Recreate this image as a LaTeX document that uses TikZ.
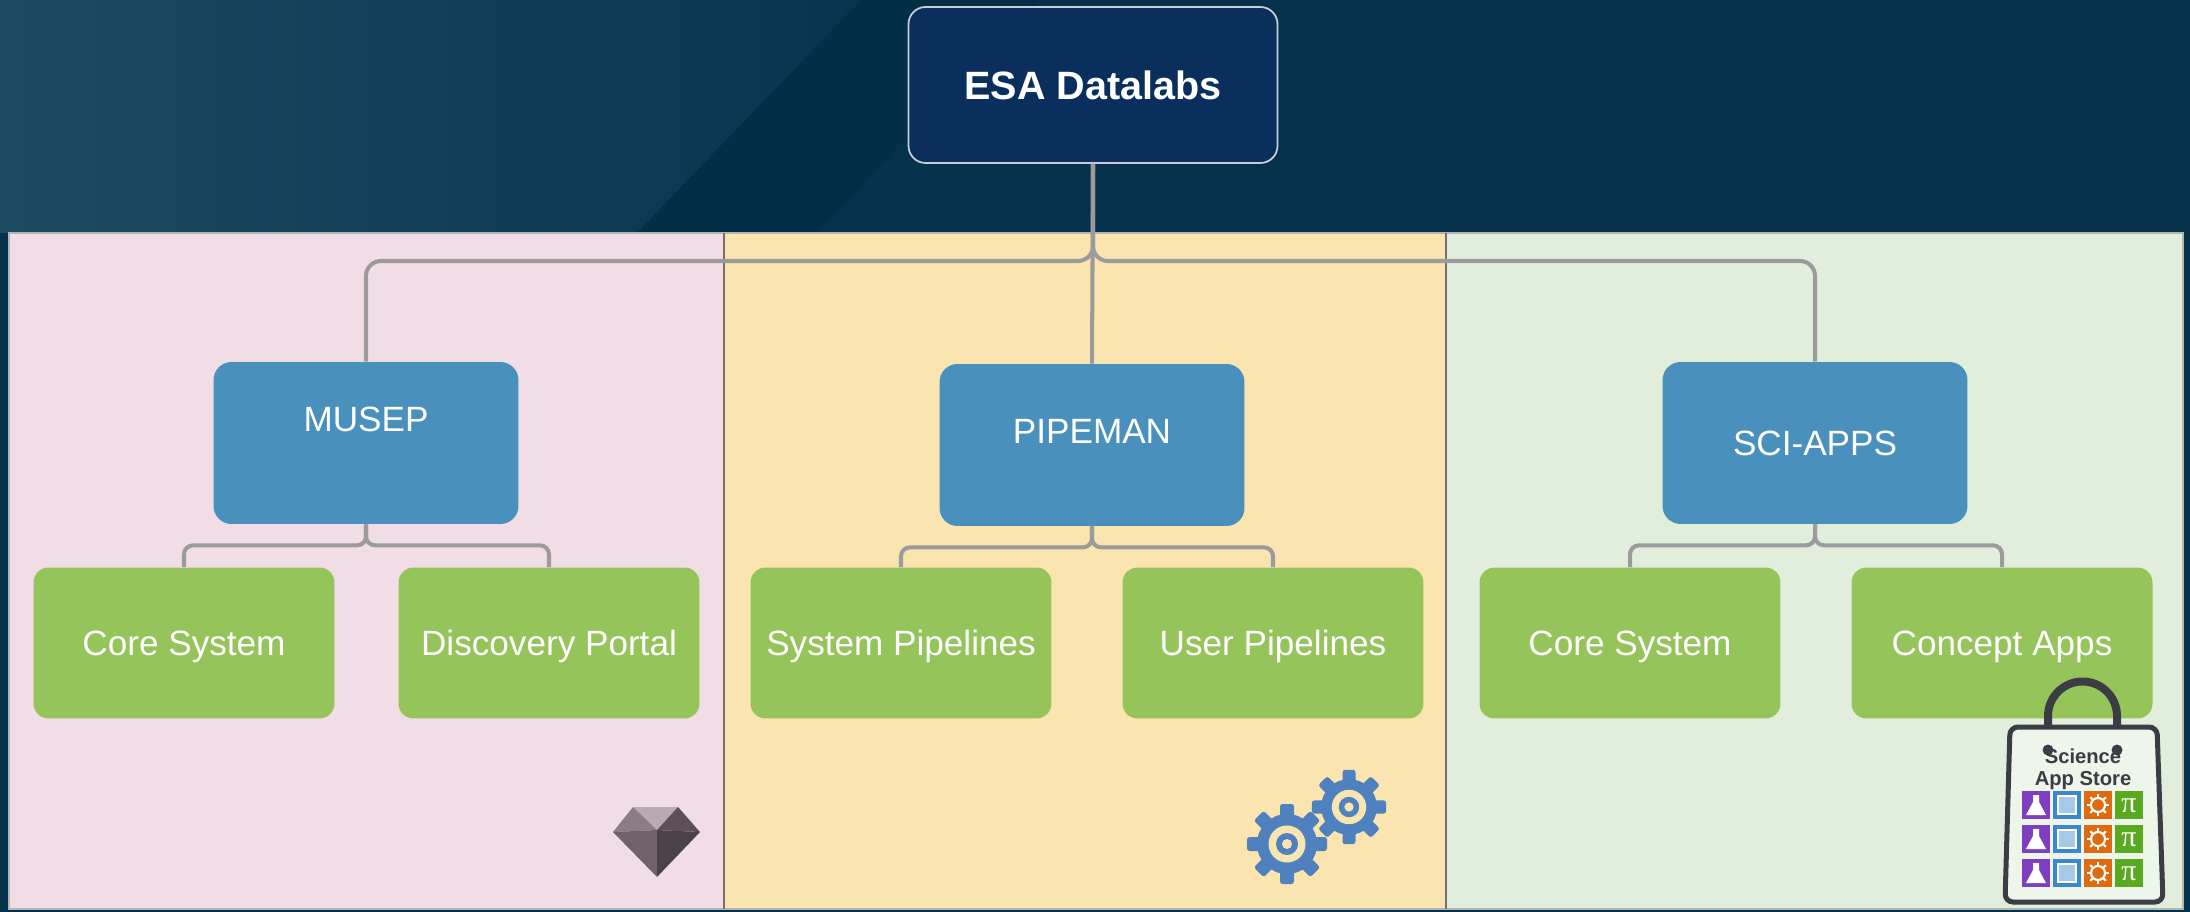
\documentclass[tikz,border=0pt]{standalone}
\usepackage{fontspec}
\setmainfont{Liberation Sans}
\newfontfamily\pifont{Liberation Serif}

\definecolor{bgLeft}{HTML}{1C4A60}
\definecolor{bgMid}{HTML}{08344F}
\definecolor{bgBand}{HTML}{022E46}
\definecolor{bgRight}{HTML}{05314B}
\definecolor{panelPink}{HTML}{F1DDE6}
\definecolor{panelYellow}{HTML}{FAE5B0}
\definecolor{panelGreen}{HTML}{E2EEDC}
\definecolor{panelEdge}{HTML}{B4B4B4}
\definecolor{divider}{HTML}{7A6E68}
\definecolor{esaNavy}{HTML}{0B2F5C}
\definecolor{esaEdge}{HTML}{C9CED6}
\definecolor{sysBlue}{HTML}{4A90BD}
\definecolor{partGreen}{HTML}{95C45B}
\definecolor{linkGray}{HTML}{9B9B9B}
\definecolor{gearBlue}{HTML}{4E81BD}
\definecolor{bagGray}{HTML}{3C3C44}
\definecolor{appPurple}{HTML}{7D3FC0}
\definecolor{appBlue}{HTML}{3A87D0}
\definecolor{appOrange}{HTML}{E06A10}
\definecolor{appGreen}{HTML}{5AAA20}
\definecolor{gemTop}{HTML}{BBAAB5}
\definecolor{gemLeft}{HTML}{8B7D86}
\definecolor{gemRight}{HTML}{5C5158}
\definecolor{gemLowL}{HTML}{6E6369}
\definecolor{gemLowR}{HTML}{4B4247}

\tikzset{
  headbox/.style={draw=esaEdge, line width=1pt, fill=esaNavy, rounded corners=0.34cm,
    minimum width=7.38cm, minimum height=3.12cm, inner sep=0pt,
    text height=16pt, text depth=0pt,
    text=white, font=\bfseries\fontsize{22.5}{27}\selectfont},
  sysbox/.style={fill=sysBlue, rounded corners=0.36cm, inner sep=0pt,
    minimum width=6.1cm, minimum height=3.24cm},
  systxt/.style={text=white, text height=14.3pt, text depth=0pt,
    font=\fontsize{20}{24}\selectfont},
  partbox/.style={fill=partGreen, rounded corners=0.3cm, inner sep=0pt,
    minimum width=6.02cm, minimum height=3.02cm,
    text height=14.3pt, text depth=0pt,
    text=white, font=\fontsize{20}{24}\selectfont},
  link/.style={draw=linkGray, line width=2.3pt, rounded corners=0.3cm},
  sublink/.style={link, rounded corners=0.18cm},
  pisign/.style={text=white, inner sep=0pt, text height=8pt, text depth=0pt,
    font=\pifont\fontsize{17}{17}\selectfont},
}

% one cog wheel: centre x, centre y, scale
\newcommand{\drawgear}[3]{%
  \begin{scope}[shift={(#1,#2)}, scale=#3]
    \fill[gearBlue] (0,0) circle (0.6cm);
    \foreach \a in {0,45,...,315}
      \fill[gearBlue, rotate=\a, rounded corners=1.5pt] (-7,0) rectangle (7,-40);
    \fill[panelYellow] (0,0) circle (0.37cm);
    \fill[gearBlue] (0,0) circle (0.22cm);
    \fill[panelYellow] (0,0) circle (0.1cm);
  \end{scope}}

\begin{document}
\begin{tikzpicture}[x=0.02cm, y=-0.02cm]
  \useasboundingbox (0,0) rectangle (2190,912);

  % background
  \fill[bgRight] (0,0) rectangle (2190,912);
  \shade[left color=bgLeft, right color=bgMid] (0,0) -- (861,0) -- (637,233) -- (0,233) -- cycle;
  \fill[bgBand] (861,0) -- (1039,0) -- (815,233) -- (637,233) -- cycle;

  % the three columns
  \fill[panelPink] (9,233) rectangle (724,909);
  \fill[panelYellow] (724,233) rectangle (1446,909);
  \fill[panelGreen] (1446,233) rectangle (2183,909);
  \draw[panelEdge, line width=1pt] (9,233) rectangle (2183,909);
  \draw[divider, line width=1pt] (724,233) -- (724,909);
  \draw[divider, line width=1pt] (1446,233) -- (1446,909);

  % boxes
  \node[headbox] (esa) at (1093,85) {ESA Datalabs};

  \node[sysbox, label={[systxt, yshift=0.48cm]center:MUSEP}] (musep) at (366,443) {};
  \node[sysbox, label={[systxt, yshift=0.28cm]center:PIPEMAN}] (pipeman) at (1092,445) {};
  \node[sysbox, label={[systxt]center:SCI-APPS}] (sciapps) at (1815,443) {};

  \node[partbox] (musepcore) at (184,643) {Core System};
  \node[partbox] (portal) at (549,643) {Discovery Portal};
  \node[partbox] (syspipe) at (901,643) {System Pipelines};
  \node[partbox] (userpipe) at (1273,643) {User Pipelines};
  \node[partbox] (scicore) at (1630,643) {Core System};
  \node[partbox] (concept) at (2002,643) {Concept Apps};

  % connectors
  \coordinate (hub) at (1093,261);
  \draw[link] (esa.south) -- (pipeman.north);
  \draw[link] (esa.south) -- (hub) -| (musep.north);
  \draw[link] (esa.south) -- (hub) -| (sciapps.north);
  \foreach \p/\c in {musep/musepcore, musep/portal, pipeman/syspipe, pipeman/userpipe,
                     sciapps/scicore, sciapps/concept}
    \draw[sublink] (\p.south) -- ++(0,21) -| (\c.north);

  % gem
  \fill[gemTop] (633,807) -- (678,807) -- (657,830) -- cycle;
  \fill[gemLeft] (613,832) -- (633,807) -- (657,830) -- cycle;
  \fill[gemRight] (678,807) -- (700,832) -- (657,830) -- cycle;
  \fill[gemLowL] (613,832) -- (657,830) -- (657,877) -- cycle;
  \fill[gemLowR] (657,830) -- (700,832) -- (657,877) -- cycle;

  % gears
  \drawgear{1349}{807}{0.93}
  \drawgear{1287}{844}{1}

  % app store bag
  \draw[bagGray, line width=0.16cm, line cap=round]
    (2048,750) -- (2048,716) arc (180:360:34.5) -- (2117,750);
  \draw[bagGray, line width=0.1cm, fill=panelGreen!60!white, rounded corners=0.16cm]
    (2010,727) -- (2157,727) -- (2163,902) -- (2005,902) -- cycle;
  \fill[bagGray] (2048,750) circle (0.11cm) (2117,750) circle (0.11cm);
  \node[text=bagGray, inner sep=0pt, font=\bfseries\fontsize{11.5}{12.5}\selectfont, align=center]
    (storename) at (2083,769) {Science\\App Store};
  \foreach \i/\c in {0/appPurple, 1/appBlue, 2/appOrange, 3/appGreen}
    \foreach \j in {0,1,2}
      \fill[\c] (2022+31*\i,791+34*\j) rectangle ++(28,28);
  \foreach \j in {0,1,2} {
    % flask
    \begin{scope}[shift={(2022,791+34*\j)}]
      \fill[white] (11,4) -- (17,4) -- (17,11) -- (24,24) -- (4,24) -- (11,11) -- cycle;
    \end{scope}
    % map
    \begin{scope}[shift={(2053,791+34*\j)}]
      \draw[white, line width=0.8pt, fill=appBlue!45!white] (5,5) rectangle (23,23);
    \end{scope}
    % cog
    \begin{scope}[shift={(2084,791+34*\j)}]
      \foreach \a in {0,45,...,315}
        \draw[white, line width=1.2pt, rotate around={\a:(14,14)}] (14,6) -- (14,3);
      \draw[white, line width=1.2pt] (14,14) circle (0.14cm);
    \end{scope}
    % pi
    \node[pisign] (pi\j) at (2129,805+34*\j) {π};
  }
\end{tikzpicture}
\end{document}
